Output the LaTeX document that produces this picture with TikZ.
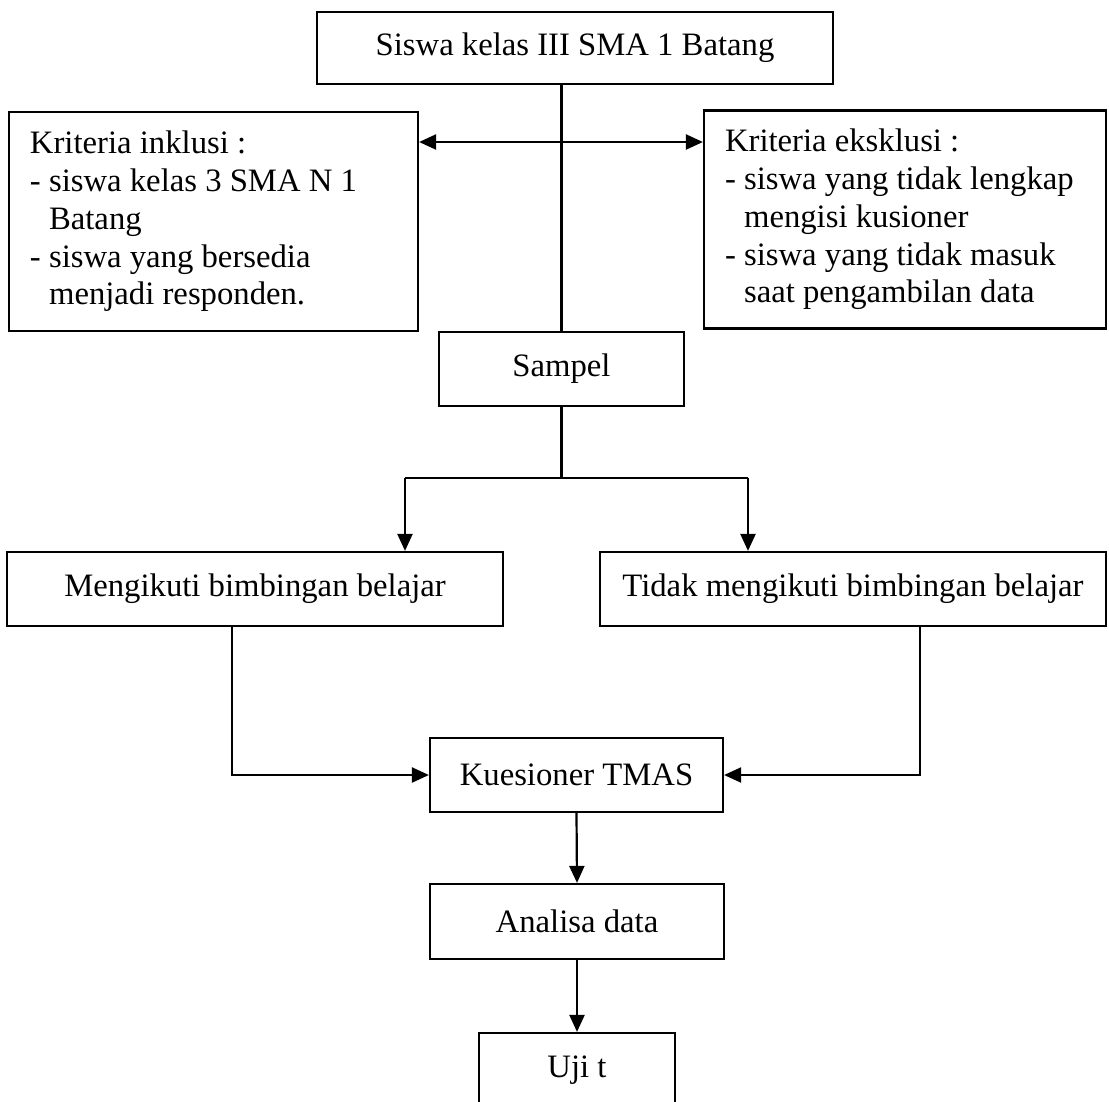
\documentclass[tikz,border=0pt]{standalone}
\usepackage{fontspec}
\setmainfont{Liberation Serif}
\usetikzlibrary{arrows.meta}
\begin{document}
\begin{tikzpicture}[x=1pt,y=-1pt,
  box/.style={draw, line width=2.2pt, rectangle, inner sep=0pt, align=center,
    font=\fontsize{32.7pt}{37.7pt}\selectfont},
  conn/.style={line width=2.2pt},
  tip/.tip={Triangle[length=17pt,width=15pt]},
  arr/.style={line width=2.2pt, -tip},
  darr/.style={line width=2.2pt, tip-tip}]
\useasboundingbox (0,0) rectangle (1109,1101);
\clip (0,0) rectangle (1109,1101);
\node[box, minimum width=516pt, minimum height=72pt] (top) at (575,48) {Siswa kelas III SMA 1 Batang};
\node[box, minimum width=409pt, minimum height=219pt, text width=367pt, align=left] (inc) at (213.5,221.5)
  {\spaceskip=0pt\xspaceskip=0pt\relax Kriteria inklusi :\\- siswa kelas 3 SMA N 1\\\phantom{-}\ Batang\\- siswa yang bersedia\\\phantom{-}\ menjadi responden.};
\node[box, minimum width=402pt, minimum height=218pt, text width=360pt, align=left] (exc) at (905,219.5)
  {\spaceskip=0pt\xspaceskip=0pt\relax Kriteria eksklusi :\\- siswa yang tidak lengkap\\\phantom{-}\ mengisi kusioner\\- siswa yang tidak masuk\\\phantom{-}\ saat pengambilan data};
\node[box, minimum width=245pt, minimum height=74pt] (samp) at (561.5,369) {Sampel};
\node[box, minimum width=496pt, minimum height=74pt] (mk) at (255,589) {Mengikuti bimbingan belajar};
\node[box, minimum width=506pt, minimum height=74pt] (tk) at (853,589) {Tidak mengikuti bimbingan belajar};
\node[box, minimum width=293pt, minimum height=74pt] (kq) at (576.5,775) {Kuesioner TMAS};
\node[box, minimum width=294pt, minimum height=75pt] (an) at (577,921.5) {Analisa data};
\node[box, minimum width=196pt, minimum height=75pt] (uji) at (577,1070.5) {Uji t};
\coordinate (trunk) at (561.5,142);
\coordinate (bl) at (405,478);
\coordinate (brr) at (748,478);
\coordinate (lj) at (232,775);
\coordinate (rj) at (920,775);
\draw[conn] (samp.north) -- (samp.north |- top.south);
\draw[darr] (inc.east |- trunk) -- (exc.west |- trunk);
\draw[conn] (samp.south) -- (samp.south |- bl);
\draw[conn] (bl) -- (brr);
\draw[arr] (bl) -- (bl |- mk.north);
\draw[arr] (brr) -- (brr |- tk.north);
\draw[arr] (mk.south -| lj) |- (kq.west);
\draw[arr] (tk.south -| rj) |- (kq.east);
\draw[arr] (kq.south) -- (an.north);
\draw[arr] (an.south) -- (uji.north);
\end{tikzpicture}
\end{document}
